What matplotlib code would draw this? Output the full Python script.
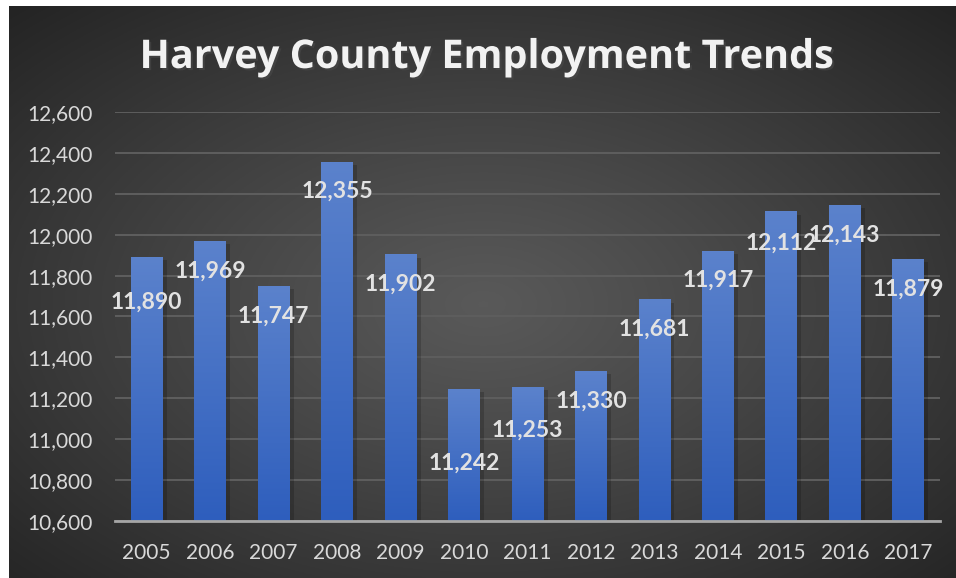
import numpy as np
import matplotlib.pyplot as plt
from matplotlib.ticker import FuncFormatter
from matplotlib import patheffects as pe

plt.rcParams['font.family'] = ['Lato', 'DejaVu Sans']

# Employees per year in Harvey County
years = ['2005', '2006', '2007', '2008', '2009', '2010', '2011',
         '2012', '2013', '2014', '2015', '2016', '2017']
employment = [11890, 11969, 11747, 12355, 11902, 11242, 11253,
              11330, 11681, 11917, 12112, 12143, 11879]
y_ticks = [10600, 10800, 11000, 11200, 11400, 11600, 11800,
           12000, 12200, 12400, 12600]

# how far below the bar top each value label sits (pixels)
label_drop = [45, 30, 30, 29, 29, 73, 43, 29, 29, 29, 31, 30, 30]

fig = plt.figure(figsize=(9.56, 5.78), dpi=100, facecolor='white')

# dark radial backdrop
bg = fig.add_axes([9 / 956, 0, 1 - 9 / 956, 1 - 6 / 578])
bg.set_axis_off()
h, w = 300, 500
yy, xx = np.mgrid[0:h, 0:w]
cx, cy = w * 0.50, h * 0.52
r = np.sqrt(((xx - cx) / w) ** 2 + ((yy - cy) / h) ** 2)
r = r / r.max()
shade = 0.35 - (0.35 - 0.14) * r ** 1.1
bg.imshow(np.dstack([shade, shade, shade]), aspect='auto', extent=[0, 1, 0, 1])
bg.set_xlim(0, 1)
bg.set_ylim(0, 1)

ax = fig.add_axes([115 / 956, 1 - 521 / 578, 825 / 956, 409 / 578])
ax.patch.set_alpha(0)

x = np.arange(len(years))
bars = ax.bar(x, employment, width=0.5, color='#4472c4', zorder=2,
              path_effects=[pe.SimplePatchShadow(offset=(3, -2), shadow_rgbFace='black', alpha=0.18),
                            pe.Normal()])

# vertical blue gradient on each bar
top_c = np.array([0x5b, 0x82, 0xcc]) / 255
bot_c = np.array([0x2e, 0x5e, 0xbd]) / 255
grad = np.linspace(0, 1, 256)[:, None]
grad_img = (top_c * (1 - grad) + bot_c * grad).reshape(256, 1, 3)
for b in bars:
    x0, y0 = b.get_x(), b.get_y()
    ax.imshow(grad_img, aspect='auto', zorder=3,
              extent=[x0, x0 + b.get_width(), 10600, y0 + b.get_height()])
ax.set_xlim(-0.5, len(years) - 0.5)
ax.set_ylim(10600, 12600)

ax.set_yticks(y_ticks)
ax.yaxis.set_major_formatter(FuncFormatter(lambda v, p: f'{int(v):,}'))
ax.set_xticks(x)
ax.set_xticklabels(years)
ax.tick_params(axis='both', length=0, labelsize=15, colors='#d9d9d9')
ax.tick_params(axis='y', pad=16)
ax.tick_params(axis='x', pad=16)
ax.grid(axis='y', color='#5e5e5e', linewidth=1.4, zorder=1)
ax.set_axisbelow(True)
for s in ['top', 'right', 'left']:
    ax.spines[s].set_visible(False)
ax.spines['bottom'].set_color('#a6a6a6')
ax.spines['bottom'].set_linewidth(2)
ax.spines['bottom'].set_zorder(4)

# value labels
for xi, v, d in zip(x, employment, label_drop):
    ax.annotate(f'{v:,}', xy=(xi, v), xytext=(0, -d), textcoords='offset pixels',
                ha='center', va='center', fontsize=16.5, fontweight='bold',
                color='#e2e2e2', zorder=5)

fig.text(487 / 956, 1 - 68 / 578, 'Harvey County Employment Trends',
         ha='center', va='baseline', fontsize=28.5, fontweight='bold', color='#f2f2f2',
         family=['Open Sans', 'DejaVu Sans'],
         path_effects=[pe.SimplePatchShadow(offset=(1.5, -1.5), alpha=0.6), pe.Normal()])

fig.savefig('out.png', dpi=100, facecolor=fig.get_facecolor())
